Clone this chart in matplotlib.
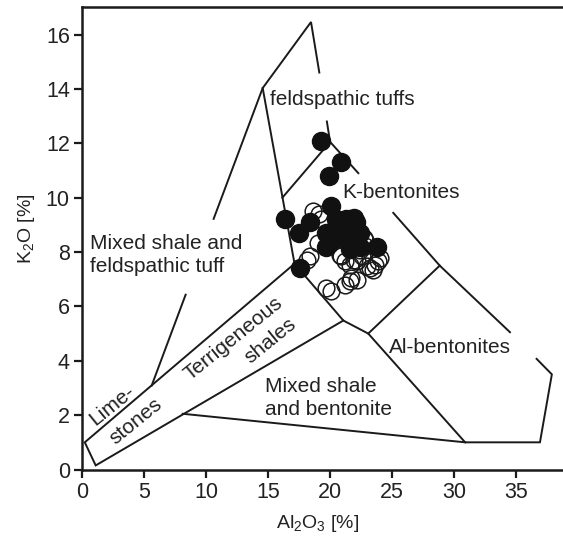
import matplotlib
matplotlib.use("Agg")
import matplotlib.pyplot as plt

plt.rcParams['font.family'] = ['Liberation Sans', 'DejaVu Sans']
plt.rcParams['mathtext.fontset'] = 'custom'
plt.rcParams['mathtext.rm'] = 'Liberation Sans'
plt.rcParams['mathtext.it'] = 'Liberation Sans:italic'

# Sample data (Al2O3 %, K2O %)
solid_x = [19.3, 20.9, 19.9, 20.1, 16.4, 18.4, 17.5, 19.7, 21.6, 20.8, 22.1, 19.7, 21.1,
           21.9, 22.4, 23.8, 17.6, 21.9, 20.5, 21.3, 21.9, 20.4, 21.6, 22.2, 19.9, 21.6, 22.4]
solid_y = [12.1, 11.3, 10.8, 9.7, 9.2, 9.1, 8.7, 8.7, 9.2, 8.9, 9.1, 8.2, 8.5,
           8.3, 8.2, 8.2, 7.4, 8.7, 9.2, 9.2, 9.25, 8.5, 8.6, 8.3, 8.3, 8.1, 8.7]

open_x = [18.6, 19.1, 19.3, 19.05, 18.4, 18.1, 20.5, 20.9, 21.2, 21.6, 22.15, 22.55, 22.8,
          22.95, 23.5, 23.9, 24.0, 19.7, 20.1, 21.2, 21.6, 22.15, 21.9, 22.4, 22.8, 22.7,
          20.8, 23.6, 23.2, 21.7]
open_y = [9.5, 9.4, 9.2, 8.33, 7.84, 7.72, 9.13, 7.84, 7.66, 7.54, 7.66, 7.84, 8.46,
          7.47, 7.35, 7.66, 7.78, 6.68, 6.56, 6.8, 6.92, 6.98, 7.72, 8.09, 8.21, 8.52,
          7.9, 7.54, 7.41, 7.05]

# Field boundaries (polylines in data units)
boundaries = [
    ([17.13, 0.2, 1.08, 21.07], [7.57, 1.0, 0.15, 5.48]),               # terrigeneous / limestone band
    ([5.6, 8.34], [3.09, 6.43]),                                          # mixed shale - tuff line (lower)
    ([10.6, 14.56, 18.46, 19.13], [9.22, 14.03, 16.46, 14.6]),           # upper part and peak
    ([19.74, 20.0], [12.8, 12.05]),
    ([14.56, 16.4, 17.13, 21.07, 23.08, 30.9, 36.94, 37.9, 36.67],
     [14.03, 9.4, 7.57, 5.48, 5.0, 1.0, 1.0, 3.5, 4.07]),
    ([16.15, 20.0, 22.28], [10.0, 12.05, 10.9]),
    ([25.1, 28.85, 34.52], [9.44, 7.5, 5.05]),
    ([28.85, 23.08], [7.5, 5.0]),
    ([8.1, 30.9], [2.05, 1.0]),
]

# Field labels: (text, x, y, ha, rotation)
labels = [
    ("feldspathic tuffs", 15.15, 13.6, 'left', 0),
    ("K-bentonites", 21.0, 10.18, 'left', 0),
    ("Mixed shale and\nfeldspathic tuff", 0.62, 7.89, 'left', 0),
    ("Al-bentonites", 24.75, 4.49, 'left', 0),
    ("Mixed shale\nand bentonite", 14.75, 2.63, 'left', 0),
    ("Terrigeneous", 12.16, 4.82, 'center', 39),
    ("shales", 15.19, 4.72, 'center', 39),
    ("Lime-", 2.44, 2.36, 'center', 39),
    ("stones", 4.32, 1.78, 'center', 39),
]

fig = plt.figure(figsize=(5.63, 5.38), dpi=100)
ax = fig.add_axes([0.1462, 0.1273, 0.8538, 0.8591])

for bx, by in boundaries:
    ax.plot(bx, by, color='#1a1a1a', linewidth=1.4, solid_joinstyle='miter')

ax.plot(open_x, open_y, 'o', markersize=12, markerfacecolor='none',
        markeredgecolor='#1a1a1a', markeredgewidth=1.1, linestyle='none')
ax.plot(solid_x, solid_y, 'o', markersize=13, color='#111111', linestyle='none')

for txt, x, y, ha, rot in labels:
    ax.text(x, y, txt, fontsize=15, ha=ha, va='center', rotation=rot,
            rotation_mode='anchor', color='#222222', linespacing=1.25)

ax.set_xlim(0, 38.8)
ax.set_ylim(0, 17)
ax.set_xticks(range(0, 36, 5))
ax.set_yticks(range(0, 17, 2))
ax.spines['right'].set_visible(False)
for side in ['left', 'bottom', 'top']:
    ax.spines[side].set_linewidth(1.8)
    ax.spines[side].set_color('#1a1a1a')
ax.tick_params(direction='out', length=6, width=1.6, labelsize=15.5, pad=3,
               colors='#1a1a1a', labelcolor='#222222')

ax.set_xlabel(r'Al$_2$O$_3$ [%]', fontsize=14, color='#222222')
ax.set_ylabel(r'K$_2$O [%]', fontsize=14, color='#222222')
ax.xaxis.set_label_coords(0.489, -0.094)
ax.yaxis.set_label_coords(-0.094, 0.522)

fig.savefig('out.png', dpi=100)
